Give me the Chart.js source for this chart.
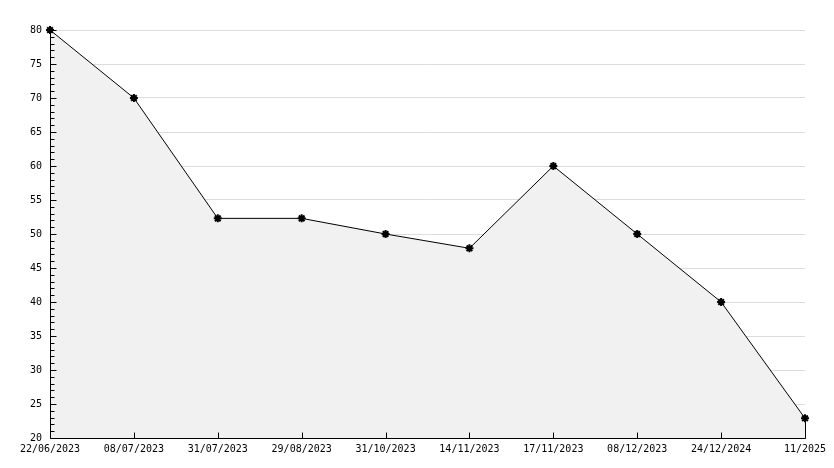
<!DOCTYPE html>
<html>
<head>
<meta charset="utf-8">
<script src="https://cdn.jsdelivr.net/npm/chart.js@4.4.1/dist/chart.umd.min.js"></script>
<style>
html, body { margin: 0; padding: 0; background: #fff; }
#wrap { width: 834px; height: 468px; }
</style>
</head>
<body>
<div id="wrap"><canvas id="chart"></canvas></div>
<script>
const dates = ["22/06/2023", "08/07/2023", "31/07/2023", "29/08/2023", "31/10/2023",
    "14/11/2023", "17/11/2023", "08/12/2023", "24/12/2024", "11/2025"];
const values = [80, 70, 52.3, 52.3, 50, 47.9, 60, 50, 40, 22.9];
const yMin = 20;
const yMax = 80;
const yStep = 5;
const yMinorStep = 1;

const font = { family: "DejaVu Sans Mono", size: 10 };

// axis lines + the little inside ticks, drawn after the fill so they stay visible
const axisTicks = {
    id: "axisTicks",
    afterDatasetsDraw(chart) {
        let ctx = chart.ctx;
        let area = chart.chartArea;
        let x = chart.scales.x;
        let y = chart.scales.y;
        let left = Math.round(area.left) + 0.5;
        let bottom = Math.round(area.bottom) + 0.5;
        ctx.save();
        ctx.strokeStyle = "#000";
        ctx.lineWidth = 1;
        ctx.beginPath();
        for (let v = yMin; v <= yMax; v += yMinorStep) {
            let py = Math.round(y.getPixelForValue(v)) + 0.5;
            let len = v % yStep == 0 ? 6 : 4;
            ctx.moveTo(left, py);
            ctx.lineTo(left + len, py);
        }
        dates.forEach((d, i) => {
            let px = Math.round(x.getPixelForValue(i)) + 0.5;
            ctx.moveTo(px, bottom);
            ctx.lineTo(px, bottom - 6);
        });
        // closing edge of the filled area at the last point
        let meta = chart.getDatasetMeta(0);
        let last = meta.data[meta.data.length - 1];
        let lx = Math.round(last.x) + 0.5;
        ctx.moveTo(lx, last.y);
        ctx.lineTo(lx, bottom);
        ctx.moveTo(left, Math.round(area.top));
        ctx.lineTo(left, bottom);
        ctx.lineTo(Math.round(area.right) + 0.5, bottom);
        ctx.stroke();
        ctx.restore();
    }
};

new Chart(document.getElementById("chart"), {
    type: "line",
    data: {
        labels: dates,
        datasets: [{
            data: values,
            borderColor: "#000",
            borderWidth: 1,
            backgroundColor: "#f1f1f1",
            fill: "start",
            tension: 0,
            pointStyle: "star",
            pointRadius: 4,
            pointBorderWidth: 2,
            pointBorderColor: "#000",
            pointBackgroundColor: "#000",
            clip: false
        }]
    },
    options: {
        responsive: true,
        maintainAspectRatio: false,
        animation: false,
        layout: { padding: { top: 30, right: 29, bottom: 0, left: 0 } },
        plugins: {
            legend: { display: false },
            tooltip: { enabled: false }
        },
        scales: {
            x: {
                offset: false,
                grid: { display: false, drawTicks: false },
                border: { display: false },
                ticks: {
                    color: "#000",
                    font: font,
                    padding: 5,
                    maxRotation: 0,
                    autoSkip: false
                },
                afterFit(scale) { scale.height = 30; }
            },
            y: {
                min: yMin,
                max: yMax,
                grid: { color: "#dcdcdc", drawTicks: false },
                border: { display: false },
                ticks: {
                    stepSize: yStep,
                    color: "#000",
                    font: font,
                    padding: 8
                },
                afterFit(scale) { scale.width = 50; }
            }
        }
    },
    plugins: [axisTicks]
});
</script>
</body>
</html>
